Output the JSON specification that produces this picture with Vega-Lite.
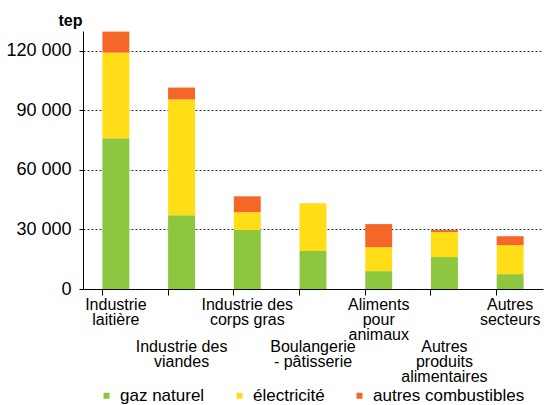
{
  "$schema": "https://vega.github.io/schema/vega-lite/v6.json",
  "width": 460,
  "height": 258,
  "autosize": {"type": "none"},
  "padding": {"left": 83, "top": 31, "right": 6, "bottom": 116},
  "background": "white",
  "config": {
    "font": "Liberation Sans",
    "view": {"stroke": null}
  },
  "data": {
    "values": [
      {"secteur": "Industrie laitière", "energie": "gaz naturel", "tep": 75900},
      {"secteur": "Industrie laitière", "energie": "électricité", "tep": 43200},
      {"secteur": "Industrie laitière", "energie": "autres combustibles", "tep": 10600},
      {"secteur": "Industrie des viandes", "energie": "gaz naturel", "tep": 37200},
      {"secteur": "Industrie des viandes", "energie": "électricité", "tep": 58300},
      {"secteur": "Industrie des viandes", "energie": "autres combustibles", "tep": 6000},
      {"secteur": "Industrie des corps gras", "energie": "gaz naturel", "tep": 29700},
      {"secteur": "Industrie des corps gras", "energie": "électricité", "tep": 9000},
      {"secteur": "Industrie des corps gras", "energie": "autres combustibles", "tep": 8000},
      {"secteur": "Boulangerie - pâtisserie", "energie": "gaz naturel", "tep": 19100},
      {"secteur": "Boulangerie - pâtisserie", "energie": "électricité", "tep": 24100},
      {"secteur": "Boulangerie - pâtisserie", "energie": "autres combustibles", "tep": 0},
      {"secteur": "Aliments pour animaux", "energie": "gaz naturel", "tep": 9000},
      {"secteur": "Aliments pour animaux", "energie": "électricité", "tep": 12100},
      {"secteur": "Aliments pour animaux", "energie": "autres combustibles", "tep": 11600},
      {"secteur": "Autres produits alimentaires", "energie": "gaz naturel", "tep": 16100},
      {"secteur": "Autres produits alimentaires", "energie": "électricité", "tep": 12600},
      {"secteur": "Autres produits alimentaires", "energie": "autres combustibles", "tep": 1000},
      {"secteur": "Autres secteurs", "energie": "gaz naturel", "tep": 7500},
      {"secteur": "Autres secteurs", "energie": "électricité", "tep": 14600},
      {"secteur": "Autres secteurs", "energie": "autres combustibles", "tep": 4500}
    ]
  },
  "transform": [
    {"calculate": "indexof(['gaz naturel','électricité','autres combustibles'], datum.energie)", "as": "rang"}
  ],
  "mark": {"type": "bar"},
  "encoding": {
    "x": {
      "field": "secteur",
      "type": "nominal",
      "sort": null,
      "scale": {"paddingInner": 0.59, "paddingOuter": 0.295},
      "axis": {
        "title": null,
        "labelAngle": 0,
        "bandPosition": 0,
        "labelFontSize": 16,
        "labelColor": "#000",
        "labelLimit": 0,
        "labelLineHeight": 15,
        "labelBaseline": "top",
        "labelPadding": {"condition": {"test": "indexof(['Industrie des viandes','Boulangerie - pâtisserie','Autres produits alimentaires'], datum.value) >= 0", "value": 43}, "value": 1},
        "labelExpr": "datum.value == 'Industrie laitière' ? ['Industrie','laitière'] : datum.value == 'Industrie des viandes' ? ['Industrie des','viandes'] : datum.value == 'Industrie des corps gras' ? ['Industrie des','corps gras'] : datum.value == 'Boulangerie - pâtisserie' ? ['Boulangerie','- pâtisserie'] : datum.value == 'Aliments pour animaux' ? ['Aliments','pour','animaux'] : datum.value == 'Autres produits alimentaires' ? ['Autres','produits','alimentaires'] : ['Autres','secteurs']",
        "domainColor": "#000",
        "tickColor": "#000",
        "tickSize": 6,
        "labelOverlap": false
      }
    },
    "y": {
      "field": "tep",
      "type": "quantitative",
      "stack": "zero",
      "scale": {"domain": [0, 130000], "nice": false},
      "axis": {
        "title": "tep",
        "titleAngle": 0,
        "titleX": -13,
        "titleY": -6,
        "titleAlign": "center",
        "titleBaseline": "alphabetic",
        "titleFontSize": 16,
        "titleFontWeight": "bold",
        "titleColor": "#000",
        "values": [0, 30000, 60000, 90000, 120000],
        "labelExpr": "replace(format(datum.value, ','), ',', ' ')",
        "labelFontSize": 18,
        "labelColor": "#000",
        "labelPadding": 8,
        "tickSize": 4,
        "tickColor": "#000",
        "domainColor": "#000",
        "grid": true,
        "gridColor": {"condition": {"test": "datum.value == 0", "value": "transparent"}, "value": "#333"},
        "gridDash": [2, 2],
        "gridWidth": 1
      }
    },
    "order": {"field": "rang", "type": "quantitative", "sort": "ascending"},
    "color": {
      "field": "energie",
      "type": "nominal",
      "scale": {
        "domain": ["gaz naturel", "électricité", "autres combustibles"],
        "range": ["#8DC63F", "#FFDD17", "#F46728"]
      },
      "legend": {
        "title": null,
        "orient": "none",
        "direction": "horizontal",
        "legendX": 15,
        "legendY": 356,
        "symbolType": "square",
        "symbolSize": 36,
        "symbolStrokeWidth": 0,
        "labelFontSize": 17,
        "labelColor": "#000",
        "labelOffset": 5,
        "columnPadding": 26,
        "labelLimit": 0
      }
    }
  }
}
